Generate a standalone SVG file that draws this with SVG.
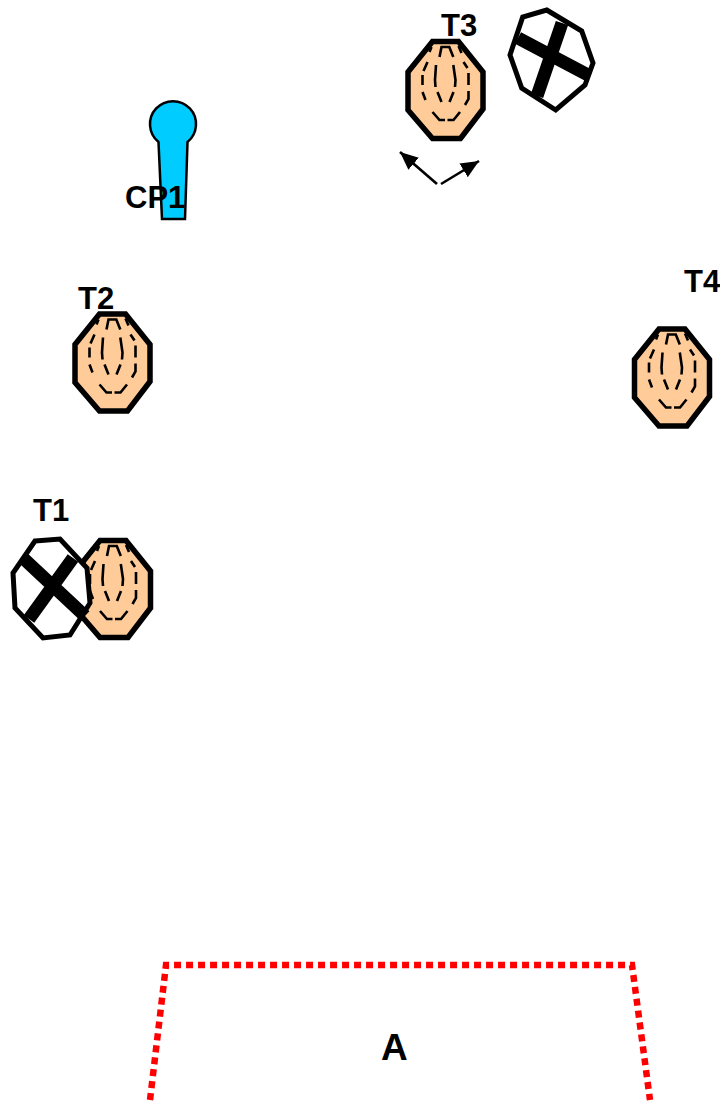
<svg xmlns="http://www.w3.org/2000/svg" xmlns:xlink="http://www.w3.org/1999/xlink" width="720" height="1102" viewBox="0 0 720 1102">
<style>
.lbl{font-family:"Liberation Sans",Arial,sans-serif;font-weight:700;font-size:31px;fill:#000}
.body{fill:#ffcc99;stroke:#000;stroke-width:5.500;stroke-linejoin:miter}
.dash{fill:none;stroke:#000;stroke-width:2.600}
.xo{fill:#fff;stroke:#000;stroke-width:5}
.xb{stroke:#000;stroke-width:13;fill:none}
.arr{stroke:#000;stroke-width:2.600;fill:none;marker-end:url(#ah)}
</style>
<defs>
<marker id="ah" markerUnits="userSpaceOnUse" markerWidth="20" markerHeight="18" refX="18" refY="8" orient="auto"><path d="M0 0L18 8L0 16Z" fill="#000"/></marker>
<g id="tooth">
<polygon class="body" points="-13,-48.500 13,-48.500 37.500,-18 37.500,19 15,48.500 -13,48.500 -37.500,20 -37.500,-18"/>
<path class="dash" d="M-6,-33L-4,-43L3.800,-43L7.800,-33M-9.500,-25L-10.500,-10L-10,-3M-8,2L-4,12M7.800,-25L10,-10L9.500,-3M8,2L4,12M-23,-15L-23,-5M-23,2L-20,10M23,-17L23,-5M23,1L23,9L19.500,15M-14,-43L-16,-38M-18,-28L-22,-19M13,-44L16,-37M18,-28L22,-22M-13,22L-6,30L-0.500,30M2,30L8,30L14.500,22"/>
</g>
</defs>
<g id="T3"><use xlink:href="#tooth" href="#tooth" x="445.500" y="90"/><text class="lbl" x="441" y="36">T3</text></g>
<g id="T3-x"><polygon class="xo" points="546.700,10 581.700,31 593,63 585,85 555.700,110 521.700,88 510,55 522.700,17"/><path class="xb" d="M518,38L588,75M562,23L537,96"/></g>
<g id="CP1"><path d="M158.500,142A23 23 0 1 1 187.500,142L185,219L162,219Z" fill="#00ccff" stroke="#000" stroke-width="2.500"/><text class="lbl" x="125" y="208">CP1</text></g>
<g id="T2"><use xlink:href="#tooth" href="#tooth" x="112.500" y="362.500"/><text class="lbl" x="78" y="309">T2</text></g>
<g id="T4"><use xlink:href="#tooth" href="#tooth" x="672" y="377.500"/><text class="lbl" x="684" y="292">T4</text></g>
<g id="T1"><use xlink:href="#tooth" href="#tooth" x="113" y="589"/><polygon class="xo" points="35,541 60,539 87,568 90,603 70,635 43,638 15,608 13,573"/><path class="xb" d="M23,558L85,616M73,558L29,619"/><text class="lbl" x="33" y="521">T1</text></g>
<g id="A"><polyline points="150,1100 166,965 632,965 650,1100" fill="none" stroke="#ff0000" stroke-width="6.500" stroke-dasharray="7 5"/><text class="lbl" style="font-size:37px" x="381" y="1060">A</text></g>
<g id="connectors"><path class="arr" d="M437,184L400,152"/><path class="arr" d="M441,184L479,161"/></g>
</svg>
